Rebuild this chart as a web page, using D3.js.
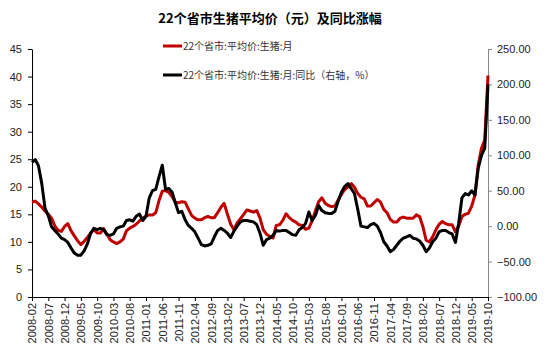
<!DOCTYPE html>
<html>
<head>
<meta charset="utf-8">
<script src="https://cdn.jsdelivr.net/npm/d3@7"></script>
<style>
  body { margin: 0; background: #fff; }
  svg { display: block; font-family: "Liberation Sans", Arial, sans-serif; }
</style>
</head>
<body>
<svg id="chart" width="554" height="352"></svg>
<script>
// monthly, 2008-02 .. 2019-10
const months = d3.timeMonths(new Date(2008, 1, 1), new Date(2019, 10, 1))
    .map(d3.timeFormat("%Y-%m"));

// 22个省市:平均价:生猪:月 (元/kg)
const price = [
    17.2, 17.4, 16.9, 16.3, 15.6, 15.0, 14.3, 12.9, 12.1, 11.9,
    12.8, 13.3, 12.0, 11.1, 10.2, 9.5, 10.1, 10.8, 11.6, 12.2,
    11.6, 11.6, 12.4, 11.4, 10.4, 10.0, 9.7, 10.0, 10.5, 12.0,
    12.5, 12.8, 13.2, 13.8, 14.3, 14.7, 14.9, 14.9, 15.3, 17.5,
    19.2, 19.3, 19.0, 18.2, 17.2, 17.1, 17.3, 17.2, 16.0, 14.8,
    14.3, 14.0, 14.0, 14.4, 14.6, 14.4, 14.4, 15.3, 16.3, 17.0,
    15.0, 13.2, 12.2, 13.5, 14.2, 15.0, 15.8, 15.6, 15.4, 15.7,
    14.3, 12.2, 11.4, 11.0, 10.7, 13.0, 13.1, 13.9, 15.1, 14.4,
    13.9, 13.6, 13.1, 13.0, 12.3, 12.5, 13.8, 15.6, 17.3, 18.0,
    17.0, 16.6, 16.4, 16.5, 17.6, 18.6, 19.5, 20.0, 20.6, 19.9,
    18.8, 18.1, 17.8, 16.5, 16.5, 17.1, 17.7, 17.2, 15.9, 15.3,
    14.1, 13.6, 13.6, 14.3, 14.5, 14.3, 14.3, 14.3, 14.9, 14.6,
    12.8, 10.3, 10.0, 10.9, 12.2, 13.2, 13.7, 13.3, 13.1, 13.1,
    11.8, 12.9, 14.6, 15.0, 15.2, 16.5, 18.5, 24.0, 27.0, 28.5,
    40.2
];

// 同比 (%), right axis
const yoy = [
    90, 94, 85, 60, 25, 15, -1, -6, -11, -17,
    -19, -23, -31, -38, -41, -41, -35, -25, -10, -3,
    -5, -3, -5, -12, -13, -11, -3, -1, 0, 8,
    9, 7, 14, 17, 8, 14, 40, 50, 52, 70,
    86, 52, 53, 48, 33, 19, 21, 9, 1, -3,
    -8, -17, -26, -28, -27, -25, -15, -6, -3, -6,
    -10, -16, -7, 0, 6, 8, 8, 7, 6, 2,
    -10, -27, -19, -17, -13, -6, -7, -6, -6, -9,
    -12, -13, -5, -2, 4, 20, 8, 15, 29, 22,
    19, 18, 18, 21, 35, 48, 56, 60, 53, 46,
    24, 0, -1, -2, 2, 4, 0, -9, -22, -28,
    -36, -33, -27, -21, -17, -15, -13, -17, -18, -21,
    -27, -36, -31, -22, -17, -8, -6, -6, -9, -11,
    -23, 4, 40, 46, 44, 50, 44, 82, 100, 110,
    200
];

const leftTicks = [0, 5, 10, 15, 20, 25, 30, 35, 40, 45];
const rightTicks = [-100, -50, 0, 50, 100, 150, 200, 250];
const xTickLabels = months.filter((d, i) => i % 5 === 0);

const title = "22个省市生猪平均价（元）及同比涨幅";
const seriesNames = ["22个省市:平均价:生猪:月", "22个省市:平均价:生猪:月:同比（右轴，%）"];
const colors = ["#c00000", "#000000"];

const svg = d3.select("#chart");
const m = { left: 32, right: 488, top: 49, bottom: 297 };

const x = d3.scalePoint().domain(months).range([m.left, m.right]);
const yL = d3.scaleLinear().domain([0, 45]).range([m.bottom, m.top]);
const yR = d3.scaleLinear().domain([-100, 250]).range([m.bottom, m.top]);

svg.append("text")
    .attr("x", 270).attr("y", 23)
    .attr("text-anchor", "middle")
    .style("font-family", "'Noto Sans CJK SC', sans-serif")
    .style("font-weight", "bold")
    .style("font-size", "13px")
    .text(title);

// left axis
const gL = svg.append("g").attr("transform", `translate(${m.left},0)`)
    .call(d3.axisLeft(yL).tickValues(leftTicks).tickSize(4).tickSizeOuter(0).tickPadding(6));
gL.select(".domain").attr("stroke", "#000");
gL.selectAll("text").style("font-size", "11px").attr("fill", "#222");

// right axis
const gR = svg.append("g").attr("transform", `translate(${m.right},0)`)
    .call(d3.axisRight(yR).tickValues(rightTicks).tickFormat(d3.format(".2f"))
        .tickSize(4).tickSizeOuter(0).tickPadding(5));
gR.select(".domain").attr("stroke", "#888");
gR.selectAll(".tick line").attr("stroke", "#888");
gR.selectAll("text").style("font-size", "11px").attr("fill", "#222");

// bottom axis
const gB = svg.append("g").attr("transform", `translate(0,${m.bottom})`)
    .call(d3.axisBottom(x).tickValues(xTickLabels).tickSize(4).tickSizeOuter(0));
gB.select(".domain").attr("stroke", "#000");
gB.selectAll("text")
    .style("font-size", "11px").attr("fill", "#222")
    .attr("text-anchor", "end")
    .attr("transform", "rotate(-90)")
    .attr("x", -6).attr("y", 0).attr("dy", "0.35em");

// lines
const lineL = d3.line().x((d, i) => x(months[i])).y(d => yL(d));
const lineR = d3.line().x((d, i) => x(months[i])).y(d => yR(d));

svg.append("path").datum(price)
    .attr("fill", "none").attr("stroke", colors[0]).attr("stroke-width", 3)
    .attr("stroke-linejoin", "round").attr("d", lineL);
svg.append("path").datum(yoy)
    .attr("fill", "none").attr("stroke", colors[1]).attr("stroke-width", 3)
    .attr("stroke-linejoin", "round").attr("d", lineR);

// legend
const legend = svg.append("g");
seriesNames.forEach((name, k) => {
    const ly = 46 + k * 29;
    legend.append("line")
        .attr("x1", 163).attr("x2", 182).attr("y1", ly).attr("y2", ly)
        .attr("stroke", colors[k]).attr("stroke-width", 3);
    legend.append("text")
        .attr("x", 183).attr("y", ly).attr("dy", "0.35em")
        .style("font-family", "'Noto Sans CJK SC', sans-serif")
        .style("font-size", "10px").attr("fill", "#333")
        .text(name);
});
</script>
</body>
</html>
